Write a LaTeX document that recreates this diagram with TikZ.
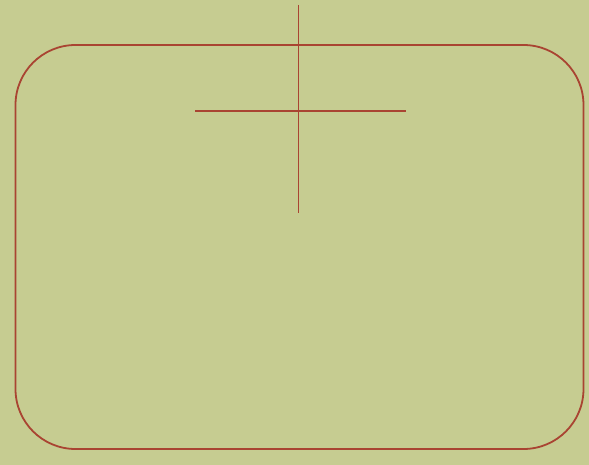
\documentclass[tikz,border=0pt]{standalone}
\definecolor{bg}{HTML}{C6CC91}
\definecolor{ln}{HTML}{A94432}
\tikzset{redline/.style={draw=ln, line width=1.8pt}}
\begin{document}
\begin{tikzpicture}[x=1pt,y=-1pt]
\fill[bg] (0,0) rectangle (589,465);
\useasboundingbox (0,0) rectangle (589,465);
\node[redline, rounded corners=60pt, minimum width=568pt, minimum height=404pt, inner sep=0pt] (frame) at (299.5,247) {};
\coordinate (vtop) at (298.5,5);
\coordinate (vbot) at (298.5,213);
\coordinate (hl) at (195,111);
\coordinate (hr) at (406,111);
\draw[redline] (vtop) -- (vbot);
\draw[redline] (hl) -- (hr);
\end{tikzpicture}
\end{document}
